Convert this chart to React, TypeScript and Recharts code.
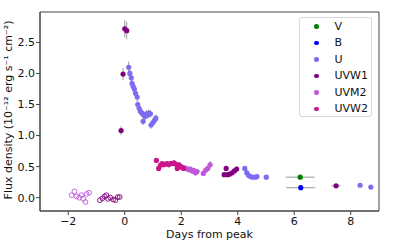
import React from 'react';
import {
  ScatterChart, Scatter, XAxis, YAxis, ErrorBar, ReferenceArea,
} from 'recharts';

// days from peak, flux (1e-12 erg/s/cm2), error
const vDay = [6.21];
const vFlux = [0.33];
const vErrY = [0.01];
const vErrX = [0.51];

const bDay = [6.23];
const bFlux = [0.16];
const bErrY = [0.01];
const bErrX = [0.51];

const uDay = [0.14, 0.18, 0.23, 0.26, 0.30, 0.34, 0.38, 0.44, 0.46, 0.51, 0.55, 0.61, 0.65, 0.67, 0.72, 0.77, 0.81, 0.85, 0.91, 0.93, 1.00, 1.06, 1.10,
  4.25, 4.32, 4.38, 4.45, 4.52, 4.62, 4.68, 5.01, 8.33, 8.71];
const uFlux = [2.10, 2.00, 1.93, 1.84, 1.79, 1.75, 1.68, 1.62, 1.50, 1.44, 1.39, 1.36, 1.23, 1.33, 1.31, 1.35, 1.33, 1.36, 1.35, 1.17, 1.21, 1.25, 1.28,
  0.47, 0.40, 0.36, 0.34, 0.33, 0.33, 0.34, 0.33, 0.20, 0.17];
const uErr = [0.09, 0.08, 0.08, 0.07, 0.07, 0.07, 0.07, 0.07, 0.06, 0.06, 0.06, 0.06, 0.06, 0.06, 0.06, 0.06, 0.06, 0.06, 0.06, 0.06, 0.06, 0.06, 0.06,
  0.04, 0.04, 0.03, 0.03, 0.03, 0.03, 0.03, 0.03, 0.01, 0.01];

const w1Day = [-0.13, -0.06, 0.0, 0.07, 3.52, 3.59, 3.64, 3.72, 3.80, 3.88, 3.96, 7.48];
const w1Flux = [1.08, 1.99, 2.72, 2.69, 0.37, 0.47, 0.37, 0.38, 0.40, 0.43, 0.46, 0.19];
const w1Err = [0.07, 0.10, 0.14, 0.14, 0.03, 0.03, 0.03, 0.03, 0.03, 0.03, 0.04, 0.01];
const w1ErrX = [0, 0, 0, 0, 0, 0, 0, 0, 0, 0, 0, 0.16];

const w1PreDay = [-0.88, -0.79, -0.71, -0.65, -0.59, -0.51, -0.41, -0.33, -0.25, -0.18];
const w1PreFlux = [-0.04, -0.01, 0.02, 0.04, -0.02, 0.0, -0.03, -0.04, 0.01, 0.01];

const m2Day = [2.10, 2.18, 2.26, 2.32, 2.38, 2.44, 2.50, 2.56, 2.78, 2.86, 2.94, 3.02];
const m2Flux = [0.48, 0.47, 0.45, 0.46, 0.43, 0.44, 0.40, 0.42, 0.39, 0.44, 0.47, 0.53];
const m2Err = [0.04, 0.04, 0.04, 0.04, 0.04, 0.04, 0.04, 0.04, 0.04, 0.05, 0.05, 0.06];

const m2PreDay = [-1.88, -1.78, -1.71, -1.61, -1.53, -1.47, -1.39, -1.35, -1.26];
const m2PreFlux = [0.04, 0.10, 0.02, 0.0, 0.04, -0.02, -0.07, 0.06, 0.08];

const w2Day = [1.12, 1.20, 1.26, 1.32, 1.38, 1.44, 1.50, 1.56, 1.62, 1.68, 1.74, 1.80, 1.86, 1.92, 1.98, 2.03, 2.08];
const w2Flux = [0.60, 0.47, 0.52, 0.55, 0.53, 0.54, 0.55, 0.53, 0.55, 0.55, 0.56, 0.54, 0.47, 0.53, 0.50, 0.49, 0.47];
const w2Err = [0.04, 0.04, 0.04, 0.04, 0.04, 0.04, 0.04, 0.04, 0.04, 0.04, 0.04, 0.04, 0.04, 0.04, 0.04, 0.04, 0.04];

const xTicks = [-2, 0, 2, 4, 6, 8];
const yTicks = [0, 0.5, 1, 1.5, 2, 2.5];
const xDomain = [-3, 9];
const yDomain = [-0.215, 2.99];

const bands = [
  { name: 'V', color: '#008000' },
  { name: 'B', color: '#0000ff' },
  { name: 'U', color: '#7b6cf0' },
  { name: 'UVW1', color: '#800080' },
  { name: 'UVM2', color: '#c058dc' },
  { name: 'UVW2', color: '#c8168a' },
];

const build = (days: number[], flux: number[], ey?: number[], ex?: number[]) =>
  days.map((d, i) => ({ x: d, y: flux[i], ey: ey ? ey[i] : 0, ex: ex ? ex[i] : 0 }));

const FONT = '"DejaVu Sans", sans-serif';
const ERR = '#9a9a9a';
const AX = '#444';

const dot = (color: string, r = 2.6) => (p: any) => (
  <circle cx={p.cx} cy={p.cy} r={r} fill={color} stroke="none" />
);
const ring = (color: string) => (p: any) => (
  <circle cx={p.cx} cy={p.cy} r={2.4} fill="none" stroke={color} strokeWidth={0.9} />
);

function LegendBox() {
  return (
    <div style={{
      position: 'absolute', left: 299, top: 17,
      width: 73, height: 100, border: '1px solid #d8d8d8', borderRadius: 3,
      background: 'rgba(255,255,255,0.85)', fontFamily: FONT, fontSize: 11,
      color: '#111', boxSizing: 'border-box',
    }}>
      {bands.map(b => (
        <div key={b.name} style={{ height: 16.5, display: 'flex', alignItems: 'center' }}>
          <span style={{
            width: 4.5, height: 4.5, borderRadius: '50%', background: b.color,
            marginLeft: 14, marginRight: 16,
          }} />
          <span>{b.name}</span>
        </div>
      ))}
    </div>
  );
}

export default function App() {
  return (
    <div style={{ position: 'absolute', left: 0, top: 0, width: 399, height: 249, background: '#fff' }}>
      <ScatterChart width={399} height={249} margin={{ top: 12, right: 20, bottom: 0, left: 0 }}>
        <XAxis
          type="number" dataKey="x" domain={xDomain} ticks={xTicks} allowDataOverflow interval={0}
          height={38} tickSize={4} tickMargin={2} stroke={AX}
          tick={{ fill: '#111', fontSize: 11, fontFamily: FONT }}
          tickFormatter={(v: number) => (v < 0 ? `\u2212${Math.abs(v)}` : `${v}`)}
          label={{
            content: () => (
              <text x={209.5} y={238} textAnchor="middle" fontSize={11} fontFamily={FONT} fill="#111">
                Days from peak
              </text>
            ),
          }}
        />
        <YAxis
          type="number" dataKey="y" domain={yDomain} ticks={yTicks} allowDataOverflow interval={0}
          width={40} tickSize={4} tickMargin={1} stroke={AX}
          tick={{ fill: '#111', fontSize: 11, fontFamily: FONT }}
          tickFormatter={(v: number) => v.toFixed(1)}
          label={{
            content: () => (
              <text x={8} y={110} transform="rotate(-90 8 110)" textAnchor="middle"
                dominantBaseline="central" fontSize={11} fontFamily={FONT} fill="#111">
                Flux density (10⁻¹² erg s⁻¹ cm⁻²)
              </text>
            ),
          }}
        />
        <ReferenceArea x1={xDomain[0]} x2={xDomain[1]} y1={yDomain[0]} y2={yDomain[1]}
          fill="none" stroke={AX} strokeWidth={1} ifOverflow="visible" />

        <Scatter name="UVM2 pre" data={build(m2PreDay, m2PreFlux)} shape={ring(bands[4].color)} isAnimationActive={false} />
        <Scatter name="UVW1 pre" data={build(w1PreDay, w1PreFlux)} shape={ring(bands[3].color)} isAnimationActive={false} />

        <Scatter name="V" data={build(vDay, vFlux, vErrY, vErrX)} shape={dot(bands[0].color)} isAnimationActive={false}>
          <ErrorBar dataKey="ex" direction="x" width={0} stroke={ERR} strokeWidth={1} />
        </Scatter>
        <Scatter name="B" data={build(bDay, bFlux, bErrY, bErrX)} shape={dot(bands[1].color)} isAnimationActive={false}>
          <ErrorBar dataKey="ex" direction="x" width={0} stroke={ERR} strokeWidth={1} />
        </Scatter>
        <Scatter name="U" data={build(uDay, uFlux, uErr)} shape={dot(bands[2].color)} isAnimationActive={false}>
          <ErrorBar dataKey="ey" direction="y" width={0} stroke={ERR} strokeWidth={1} />
        </Scatter>
        <Scatter name="UVW1" data={build(w1Day, w1Flux, w1Err, w1ErrX)} shape={dot(bands[3].color)} isAnimationActive={false}>
          <ErrorBar dataKey="ey" direction="y" width={0} stroke={ERR} strokeWidth={1} />
          <ErrorBar dataKey="ex" direction="x" width={0} stroke={ERR} strokeWidth={1} />
        </Scatter>
        <Scatter name="UVM2" data={build(m2Day, m2Flux, m2Err)} shape={dot(bands[4].color)} isAnimationActive={false}>
          <ErrorBar dataKey="ey" direction="y" width={0} stroke={ERR} strokeWidth={1} />
        </Scatter>
        <Scatter name="UVW2" data={build(w2Day, w2Flux, w2Err)} shape={dot(bands[5].color)} isAnimationActive={false}>
          <ErrorBar dataKey="ey" direction="y" width={0} stroke={ERR} strokeWidth={1} />
        </Scatter>
      </ScatterChart>
      <LegendBox />
    </div>
  );
}
